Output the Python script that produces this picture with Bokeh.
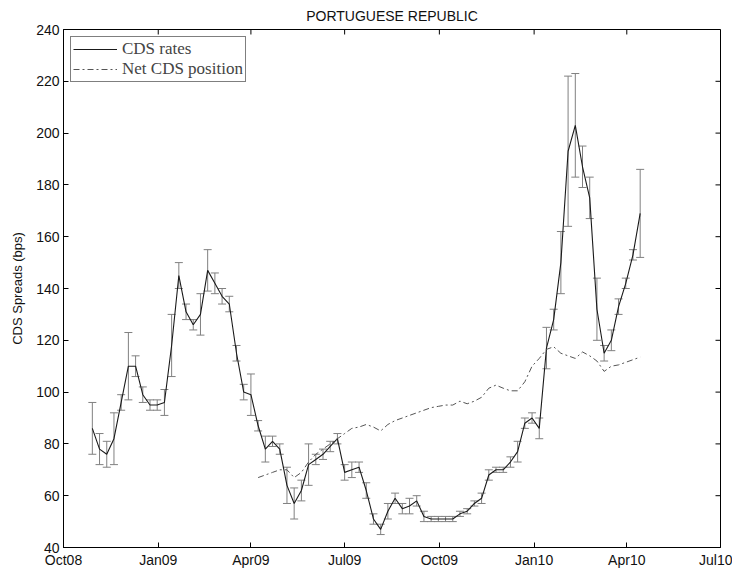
import pandas as pd
from bokeh.plotting import figure
from bokeh.models import (ColumnDataSource, Whisker, TeeHead, Legend, LegendItem,
                          FixedTicker, Range1d)
from bokeh.embed import file_html
from bokeh.resources import INLINE

# ---- data ----
cds_start = "2008-10-29"   # weekly observations
cds_rates = [86, 78, 76, 82, 96, 110, 110, 99, 95, 95,
             96, 118, 145, 131, 126, 130, 147, 142, 137, 134,
             115, 100, 99, 87, 78, 81, 78, 64, 57, 62,
             72, 74, 76, 79, 82, 69, 70, 71, 62, 51,
             47, 54, 59, 55, 56, 58, 52, 51, 51, 51,
             51, 53, 54, 57, 59, 68, 70, 70, 73, 77,
             88, 90, 86, 117, 128, 150, 193, 203, 187, 175,
             132, 115, 120, 133, 142, 153, 169]
cds_err = [10, 6, 5, 10, 3, 13, 4, 3, 2, 2,
           5, 12, 5, 3, 2, 8, 8, 4, 3, 3,
           3, 3, 8, 2, 5, 2, 2, 7, 6, 4,
           8, 2, 2, 2, 2, 3, 3, 2, 3, 2,
           2, 3, 2, 2, 3, 2, 2, 1, 1, 1,
           1, 1, 1, 1, 2, 2, 1, 1, 2, 4,
           2, 2, 4, 8, 4, 12, 29, 20, 8, 8,
           12, 3, 4, 3, 2, 2, 17]
net_start = "2009-04-08"   # weekly observations
net_cds = [67, 68, 69, 70, 70, 67, 69, 73, 76, 78,
           80, 82, 84, 86, 86.5, 87.5, 86.5, 85, 87.5, 89,
           90, 91, 92, 93, 94, 94.5, 95, 95, 96.5, 95.5,
           96.5, 98, 101.5, 102.7, 101.5, 100.5, 100.5, 104, 110, 113,
           116.5, 117.5, 115, 114, 113, 115.5, 114, 112, 108, 110,
           110.5, 111.5, 112.5, 113.5]
tick_dates = ["2008-10-01", "2009-01-01", "2009-04-01", "2009-07-01",
              "2009-10-01", "2010-01-01", "2010-04-01", "2010-07-01"]
tick_labels = ["Oct08", "Jan09", "Apr09", "Jul09", "Oct09", "Jan10", "Apr10", "Jul10"]
y_ticks = [40, 60, 80, 100, 120, 140, 160, 180, 200, 220, 240]

# ---- build ----
cds_dates = pd.date_range(cds_start, periods=len(cds_rates), freq="7D")
net_dates = pd.date_range(net_start, periods=len(net_cds), freq="7D")

src = ColumnDataSource(dict(
    x=cds_dates, y=cds_rates,
    upper=[v + e for v, e in zip(cds_rates, cds_err)],
    lower=[v - e for v, e in zip(cds_rates, cds_err)],
))
nsrc = ColumnDataSource(dict(x=net_dates, y=net_cds))

tick_ms = [pd.Timestamp(d).timestamp() * 1000 for d in tick_dates]
x0, x1 = tick_ms[0], tick_ms[-1]
y0, y1 = y_ticks[0], y_ticks[-1]

FRAME_W, FRAME_H = 657, 519
FONT = "Liberation Sans"

p = figure(width=732, height=570, x_axis_type="datetime",
           x_range=Range1d(x0, x1), y_range=Range1d(y0, y1),
           output_backend="svg", toolbar_location=None,
           min_border_left=63, min_border_right=12, min_border_top=29, min_border_bottom=22)

p.title.text = "PORTUGUESE REPUBLIC"
p.title.align = "center"
p.title.text_font = FONT
p.title.text_font_size = "14px"
p.title.text_font_style = "normal"
p.title.text_color = "#111111"
p.title.standoff = 11

p.xgrid.visible = False
p.ygrid.visible = False
p.outline_line_color = "black"
p.outline_line_width = 1
p.outline_line_alpha = 1

whisk = Whisker(base="x", upper="upper", lower="lower", source=src, dimension="height",
                line_color="#808080", line_width=1,
                upper_head=TeeHead(size=8, line_color="#808080", line_width=1),
                lower_head=TeeHead(size=8, line_color="#808080", line_width=1))
p.add_layout(whisk)

cds_line = p.line("x", "y", source=src, line_color="#1a1a1a", line_width=1.1)
net_line = p.line("x", "y", source=nsrc, line_color="#555555", line_width=1,
                  line_dash="6 3 2 3")

# tick marks on the top and right sides of the box (inward, 5 px)
ty = 5 * (y1 - y0) / FRAME_H
tx = 5 * (x1 - x0) / FRAME_W
p.segment(x0=tick_ms, y0=[y1] * len(tick_ms), x1=tick_ms, y1=[y1 - ty] * len(tick_ms),
          line_color="black", line_width=1)
p.segment(x0=[x1] * len(y_ticks), y0=y_ticks, x1=[x1 - tx] * len(y_ticks), y1=y_ticks,
          line_color="black", line_width=1)

xa = p.xaxis[0]
xa.ticker = FixedTicker(ticks=tick_ms)
xa.major_label_overrides = {t: l for t, l in zip(tick_ms, tick_labels)}
ya = p.yaxis[0]
ya.ticker = FixedTicker(ticks=y_ticks)
ya.axis_label = "CDS Spreads (bps)"
ya.axis_label_text_font = FONT
ya.axis_label_text_font_size = "13px"
ya.axis_label_text_font_style = "normal"
ya.axis_label_text_color = "#111111"
ya.axis_label_standoff = 8

for ax in (xa, ya):
    ax.major_label_text_font = FONT
    ax.major_label_text_font_size = "14px"
    ax.major_label_text_color = "#111111"
    ax.major_tick_in = 5
    ax.major_tick_out = 0
    ax.minor_tick_in = 0
    ax.minor_tick_out = 0
    ax.major_label_standoff = 4
    ax.axis_line_color = "black"
    ax.major_tick_line_color = "black"

legend = Legend(items=[LegendItem(label="CDS rates", renderers=[cds_line]),
                       LegendItem(label="Net CDS position", renderers=[net_line])],
                location="top_left", margin=7, padding=2, spacing=0,
                glyph_width=44, glyph_height=18, label_height=18, label_standoff=5,
                label_text_font="Liberation Serif", label_text_font_size="17px",
                border_line_color="black", border_line_width=1,
                background_fill_color="white", background_fill_alpha=1)
p.add_layout(legend)

open("out.html", "w").write(file_html(p, INLINE))
